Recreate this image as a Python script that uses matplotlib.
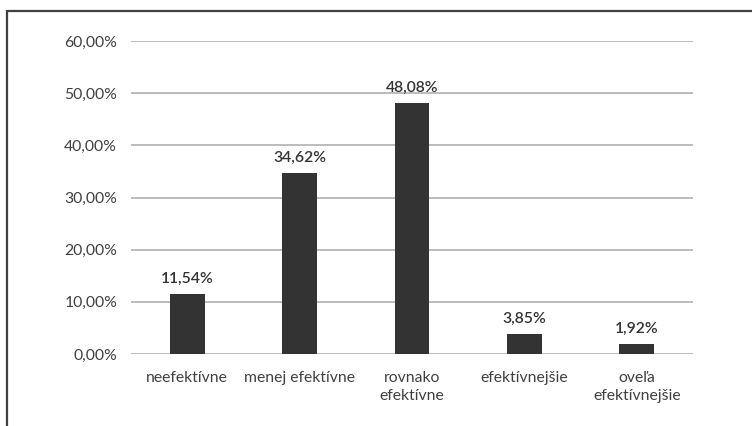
import matplotlib
matplotlib.use("Agg")
import matplotlib.pyplot as plt
from matplotlib.patches import Rectangle
from matplotlib.ticker import FuncFormatter

categories = ["neefektívne", "menej efektívne", "rovnako\nefektívne", "efektívnejšie", "oveľa\nefektívnejšie"]
values = [11.54, 34.62, 48.08, 3.85, 1.92]
yticks = [0, 10, 20, 30, 40, 50, 60]

plt.rcParams['font.family'] = ['Lato', 'DejaVu Sans']

fig = plt.figure(figsize=(7.52, 4.26), dpi=100)
ax = fig.add_axes([131/752, 1-354/426, (693-131)/752, (354-41)/426])

x = list(range(len(categories)))
ax.bar(x, values, width=0.31, color="#333333", zorder=3)
for xi, v in zip(x, values):
    ax.annotate(f"{v:.2f}%".replace(".", ","), (xi, v), xytext=(0, 6), textcoords="offset points",
                ha="center", va="bottom", fontsize=11.3, color="#333333", fontweight="semibold")

ax.set_xlim(-0.5, len(categories)-0.5)
ax.set_ylim(0, 60)
ax.set_yticks(yticks)
ax.yaxis.set_major_formatter(FuncFormatter(lambda v, p: f"{v:.2f}%".replace(".", ",")))
ax.set_xticks(x)
ax.set_xticklabels(categories, linespacing=1.35)
ax.tick_params(axis="both", length=0, labelsize=11.3, labelcolor="#404040")
ax.tick_params(axis="y", pad=10)
ax.tick_params(axis="x", pad=12)
ax.grid(axis="y", color="#b0b0b0", linewidth=1.2, zorder=0)
for s in ax.spines.values():
    s.set_visible(False)

fig.patches.append(Rectangle((7/752, -0.1), 1.2, 1.1 - 11/426, transform=fig.transFigure,
                             fill=False, edgecolor="#404040", linewidth=1.6))

fig.savefig("out.png", dpi=100)
